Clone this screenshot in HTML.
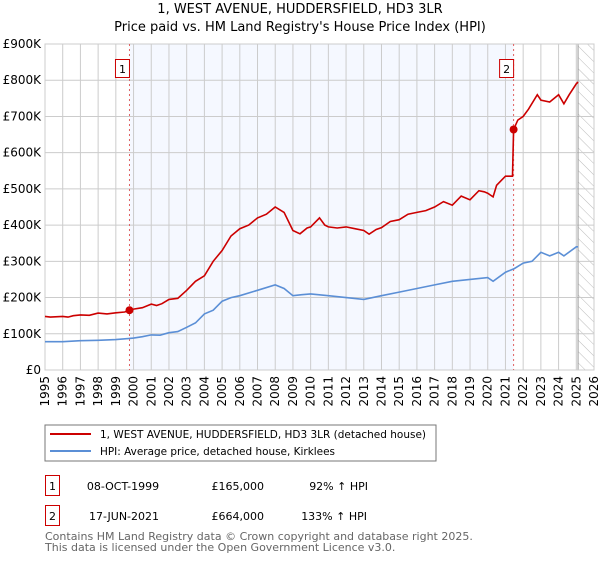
<!DOCTYPE html>
<html><head><meta charset="utf-8">
<style>
body{margin:0;background:#fff;font-family:"Liberation Sans","DejaVu Sans",sans-serif;}
svg text{font-family:"DejaVu Sans","Liberation Sans",sans-serif;}
</style></head>
<body>
<svg id="chart" width="600" height="560" viewBox="0 0 600 560" xmlns="http://www.w3.org/2000/svg">
<defs>
<pattern id="hatch" patternUnits="userSpaceOnUse" width="8" height="8" patternTransform="rotate(-45)">
<line x1="0" y1="0" x2="0" y2="8" stroke="#bbb" stroke-width="1"/>
</pattern>
</defs>
<text x="300" y="13" text-anchor="middle" font-size="13" fill="#000">1, WEST AVENUE, HUDDERSFIELD, HD3 3LR</text>
<text x="300" y="31" text-anchor="middle" font-size="13" fill="#000">Price paid vs. HM Land Registry's House Price Index (HPI)</text>
<g id="plot"></g>
<g id="legend">
<rect x="45" y="425" width="391" height="36" fill="#fff" stroke="#777"/>
<line x1="50" y1="434" x2="91" y2="434" stroke="#cc0000" stroke-width="2"/>
<text x="100" y="438" font-size="11" textLength="326" lengthAdjust="spacingAndGlyphs">1, WEST AVENUE, HUDDERSFIELD, HD3 3LR (detached house)</text>
<line x1="50" y1="451" x2="91" y2="451" stroke="#5b8fd6" stroke-width="2"/>
<text x="100" y="455" font-size="11" textLength="235" lengthAdjust="spacingAndGlyphs">HPI: Average price, detached house, Kirklees</text>
</g>
<g>
<rect x="45.5" y="475.5" width="14" height="20" fill="#fff" stroke="#cc0000"/>
<text x="52.5" y="490" font-size="11" text-anchor="middle">1</text>
<text x="123" y="490" font-size="11" text-anchor="middle">08-OCT-1999</text>
<text x="264" y="490" font-size="11" text-anchor="end">£165,000</text>
<text x="368" y="490" font-size="11" text-anchor="end">92% ↑ HPI</text>
<rect x="45.5" y="505.5" width="14" height="20" fill="#fff" stroke="#cc0000"/>
<text x="52.5" y="520" font-size="11" text-anchor="middle">2</text>
<text x="124" y="520" font-size="11" text-anchor="middle">17-JUN-2021</text>
<text x="264" y="520" font-size="11" text-anchor="end">£664,000</text>
<text x="367" y="520" font-size="11" text-anchor="end">133% ↑ HPI</text>
</g>
<text x="45" y="540" font-size="11" fill="#666">Contains HM Land Registry data © Crown copyright and database right 2025.</text>
<text x="45" y="551" font-size="11" fill="#666">This data is licensed under the Open Government Licence v3.0.</text>
</svg>
<script>
const yTicks=[0,100,200,300,400,500,600,700,800,900];
const yTickLabels=["£0","£100K","£200K","£300K","£400K","£500K","£600K","£700K","£800K","£900K"];
const xYears=[1995,1996,1997,1998,1999,2000,2001,2002,2003,2004,2005,2006,2007,2008,2009,2010,2011,2012,2013,2014,2015,2016,2017,2018,2019,2020,2021,2022,2023,2024,2025,2026];
const redYears=[1995,1995.3,1996,1996.3,1996.6,1997,1997.5,1998,1998.5,1999,1999.5,1999.77,2000,2000.5,2001,2001.3,2001.6,2002,2002.5,2003,2003.5,2004,2004.5,2005,2005.5,2006,2006.5,2007,2007.5,2008,2008.5,2009,2009.4,2009.8,2010,2010.5,2010.8,2011,2011.5,2012,2012.5,2013,2013.3,2013.7,2014,2014.5,2015,2015.5,2016,2016.5,2017,2017.5,2018,2018.5,2019,2019.5,2019.8,2020,2020.3,2020.5,2020.8,2021,2021.4,2021.46,2021.7,2022,2022.3,2022.8,2023,2023.5,2024,2024.3,2024.6,2025,2025.1];
const redValues=[148,146,148,146,150,152,151,157,155,158,160,165,168,172,182,178,183,195,198,220,245,260,300,330,370,390,400,420,430,450,435,385,376,392,395,420,400,395,392,395,390,385,375,388,393,410,415,430,435,440,450,465,455,480,470,495,492,488,478,510,525,535,535,664,690,700,720,760,745,740,760,735,760,790,795];
const blueYears=[1995,1996,1997,1998,1999,2000,2000.5,2001,2001.5,2002,2002.5,2003,2003.5,2004,2004.5,2005,2005.5,2006,2007,2008,2008.5,2009,2009.5,2010,2011,2012,2013,2014,2015,2016,2017,2018,2019,2020,2020.3,2021,2021.5,2022,2022.5,2023,2023.5,2024,2024.3,2025,2025.1];
const blueValues=[78,78,81,82,84,88,92,97,96,103,106,118,130,155,165,190,200,205,220,235,225,205,208,210,205,200,195,205,215,225,235,245,250,255,245,270,280,295,300,325,315,325,315,340,340];
const sales=[{year:1999.77,value:165,label:"1"},{year:2021.46,value:664,label:"2"}];
const L=45,R=594,T=44,B=370,Y0=1995,Y1=2026,VMAX=900;
const xs=y=>L+(y-Y0)/(Y1-Y0)*(R-L);
const ys=v=>B-v/VMAX*(B-T);
const NS="http://www.w3.org/2000/svg";
const plot=document.getElementById('plot');
function mk(tag,attrs,parent){const e=document.createElementNS(NS,tag);for(const k in attrs)e.setAttribute(k,attrs[k]);(parent||plot).appendChild(e);return e;}
let r=mk('rect',{x:L,y:T,width:R-L,height:B-T,fill:'#fff'});


let sh=mk('rect',{x:xs(sales[0].year),y:T,width:xs(sales[1].year)-xs(sales[0].year),height:B-T,fill:'#f5f8ff'});


let ht=mk('rect',{x:xs(2025.1),y:T,width:R-xs(2025.1),height:B-T,fill:'url(#hatch)'});


xYears.forEach(y=>{let g=mk('line',{x1:xs(y),x2:xs(y),y1:T,y2:B,stroke:'#ccc','stroke-width':1});


let t=mk('text',{x:0,y:0,'font-size':12,'text-anchor':'end',transform:`translate(${xs(y)+4},${B+6}) rotate(-90)`});
t.textContent=y;

});
yTicks.forEach((v,i)=>{let g=mk('line',{x1:L,x2:R,y1:ys(v),y2:ys(v),stroke:'#ccc','stroke-width':1});


let t=mk('text',{x:L-4,y:ys(v)+4,'font-size':12,'text-anchor':'end'});
t.textContent=yTickLabels[i];

});
let hl=mk('line',{x1:xs(2025.1),x2:xs(2025.1),y1:T,y2:B,stroke:'#999','stroke-width':1});


let fr=mk('rect',{x:L,y:T,width:R-L,height:B-T,fill:'none',stroke:'#ccc'});


sales.forEach(s=>{let d=mk('line',{x1:xs(s.year),x2:xs(s.year),y1:T,y2:B,stroke:'#e06060','stroke-width':1,'stroke-dasharray':'2,3'});


let b=mk('rect',{x:xs(s.year)-14,y:59.5,width:14,height:18,fill:'#fff',stroke:'#cc0000'});


let t=mk('text',{x:xs(s.year)-7,y:73,'font-size':11,'text-anchor':'middle'});
t.textContent=s.label;

});
function pts(ya,va){return ya.map((y,i)=>xs(y).toFixed(1)+','+ys(va[i]).toFixed(1)).join(' ');}
let bl=mk('polyline',{points:pts(blueYears,blueValues),fill:'none',stroke:'#5b8fd6','stroke-width':1.6});


let rl=mk('polyline',{points:pts(redYears,redValues),fill:'none',stroke:'#cc0000','stroke-width':1.6});


sales.forEach(s=>{let c=mk('circle',{cx:xs(s.year),cy:ys(s.value),r:4,fill:'#cc0000'});

});
</script>
</body></html>
